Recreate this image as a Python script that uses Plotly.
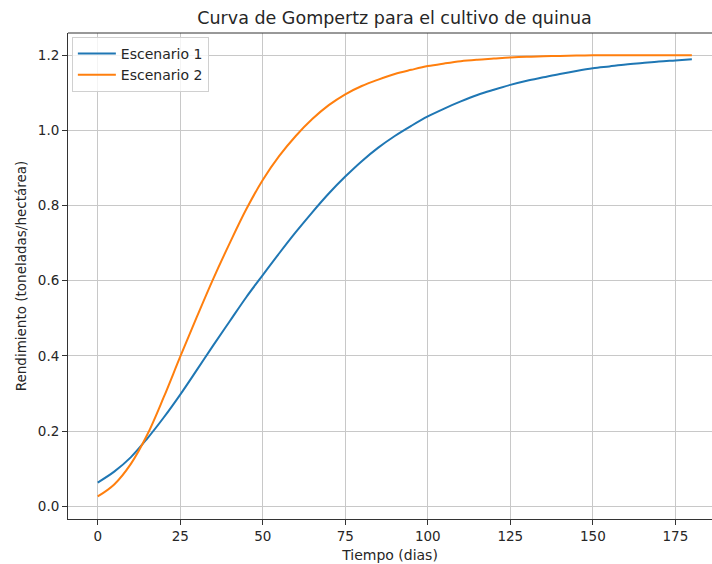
import plotly.graph_objects as go

# tiempo en dias
dias = list(range(0, 181, 5))

# rendimiento (toneladas/hectarea)
escenario_1 = [0.063, 0.092, 0.130, 0.180, 0.236, 0.297, 0.362, 0.428, 0.492, 0.556,
               0.615, 0.673, 0.729, 0.782, 0.832, 0.877, 0.918, 0.954, 0.985, 1.012,
               1.037, 1.058, 1.077, 1.094, 1.108, 1.121, 1.132, 1.141, 1.150, 1.158,
               1.165, 1.170, 1.175, 1.179, 1.183, 1.186, 1.189]
escenario_2 = [0.026, 0.058, 0.112, 0.190, 0.290, 0.398, 0.503, 0.605, 0.700, 0.790,
               0.868, 0.932, 0.985, 1.030, 1.067, 1.096, 1.118, 1.135, 1.150, 1.161,
               1.171, 1.178, 1.184, 1.188, 1.191, 1.194, 1.196, 1.197, 1.198, 1.199,
               1.200, 1.200, 1.200, 1.200, 1.200, 1.200, 1.200]

x_ticks = [0, 25, 50, 75, 100, 125, 150, 175]
y_ticks = [0.0, 0.2, 0.4, 0.6, 0.8, 1.0, 1.2]

fig = go.Figure()
fig.add_trace(go.Scatter(x=dias, y=escenario_1, mode="lines", name="Escenario 1",
                         line=dict(color="#1f77b4", width=2, shape="spline")))
fig.add_trace(go.Scatter(x=dias, y=escenario_2, mode="lines", name="Escenario 2",
                         line=dict(color="#ff7f0e", width=2, shape="spline")))

W, H = 712, 564
font = "DejaVu Sans"
fig.update_layout(
    width=W, height=H,
    margin=dict(l=68, r=0, t=33, b=45),
    paper_bgcolor="white", plot_bgcolor="white",
    font=dict(family=font, size=13.5, color="#262626"),
    title=dict(text="Curva de Gompertz para el cultivo de quinua",
               x=394.5 / W, xanchor="center", y=1 - 17.5 / H, yanchor="middle",
               font=dict(size=17.5, color="#262626")),
    showlegend=True,
    legend=dict(x=0.006, y=0.992, xanchor="left", yanchor="top",
                bgcolor="rgba(255,255,255,0.8)", bordercolor="#d0d0d0", borderwidth=1,
                font=dict(size=14), itemwidth=38, tracegroupgap=0),
)
fig.update_xaxes(range=[-9, 186.1], tickvals=x_ticks, ticks="outside", ticklen=5,
                 tickcolor="#333", showline=True, linecolor="#333", linewidth=1,
                 showgrid=True, gridcolor="#c8c8c8", gridwidth=1, zeroline=False,
                 automargin=False,
                 title=dict(text="Tiempo (dias)", standoff=6, font=dict(size=14)))
fig.update_yaxes(range=[-0.034, 1.259], tickvals=y_ticks, tickformat=".1f",
                 ticks="outside", ticklen=5, tickcolor="#333",
                 showline=True, linecolor="#333", linewidth=1,
                 showgrid=True, gridcolor="#c8c8c8", gridwidth=1, zeroline=False,
                 automargin=False,
                 title=dict(text="Rendimiento (toneladas/hectárea)", standoff=8,
                            font=dict(size=13.5)))
# borde superior del area de trazado
fig.add_shape(type="line", xref="paper", yref="paper", x0=0, x1=1, y0=1, y1=1,
              line=dict(color="#333", width=1))

# quitar el margen por defecto del body para que la figura llene la ventana
fig.write_html("out.html", config={"displayModeBar": False},
               post_script="document.body.style.margin='0';"
                           "document.documentElement.style.overflow='hidden';")
